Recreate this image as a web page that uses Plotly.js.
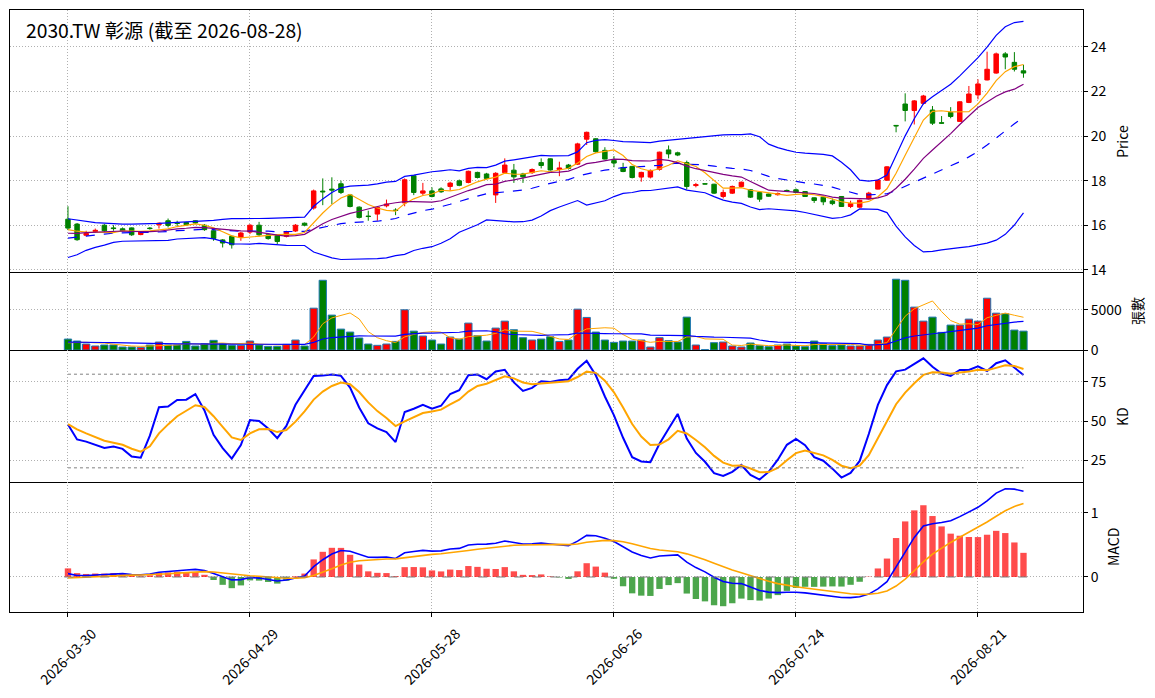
<!DOCTYPE html>
<html><head><meta charset="utf-8">
<script src="https://cdn.plot.ly/plotly-3.0.1.min.js"></script>
<style>html,body{margin:0;padding:0;background:#fff}</style>
</head><body>
<div id="chart" style="width:1155px;height:698px"></div>
<script>
const dates = ["2026-03-30","2026-03-31","2026-04-01","2026-04-02","2026-04-07","2026-04-08","2026-04-09","2026-04-10","2026-04-13","2026-04-14",
"2026-04-15","2026-04-16","2026-04-17","2026-04-20","2026-04-21","2026-04-22","2026-04-23","2026-04-24","2026-04-27","2026-04-28",
"2026-04-29","2026-04-30","2026-05-04","2026-05-05","2026-05-06","2026-05-07","2026-05-08","2026-05-11","2026-05-12","2026-05-13",
"2026-05-14","2026-05-15","2026-05-18","2026-05-19","2026-05-20","2026-05-21","2026-05-22","2026-05-25","2026-05-26","2026-05-27",
"2026-05-28","2026-05-29","2026-06-01","2026-06-02","2026-06-03","2026-06-04","2026-06-05","2026-06-08","2026-06-09","2026-06-10",
"2026-06-11","2026-06-12","2026-06-15","2026-06-16","2026-06-17","2026-06-18","2026-06-22","2026-06-23","2026-06-24","2026-06-25",
"2026-06-26","2026-06-29","2026-06-30","2026-07-01","2026-07-02","2026-07-03","2026-07-06","2026-07-07","2026-07-08","2026-07-09",
"2026-07-10","2026-07-13","2026-07-14","2026-07-15","2026-07-16","2026-07-17","2026-07-20","2026-07-21","2026-07-22","2026-07-23",
"2026-07-24","2026-07-27","2026-07-28","2026-07-29","2026-07-30","2026-07-31","2026-08-03","2026-08-04","2026-08-05","2026-08-06",
"2026-08-07","2026-08-10","2026-08-11","2026-08-12","2026-08-13","2026-08-14","2026-08-17","2026-08-18","2026-08-19","2026-08-20",
"2026-08-21","2026-08-24","2026-08-25","2026-08-26","2026-08-27","2026-08-28"];

const open = [16.27,16.05,15.55,15.72,16.0,15.88,15.84,15.88,15.58,15.87, 16.02,16.2,16.1,16.12,16.2,16.0,15.75,15.34,15.5,15.45,
15.69,16.0,15.57,15.54,15.5,15.74,16.09,16.77,17.53,17.62, 17.86,17.36,16.81,16.41,16.5,16.87,16.68,17.0,18.22,17.44,
17.54,17.63,17.74,17.99,17.92,18.37,18.3,17.36,18.36,18.47, 18.3,18.36,18.81,18.98,18.5,18.7,18.74,19.86,19.88,19.36,
18.91,18.59,18.64,18.16,18.16,18.51,19.38,19.25,18.81,17.78, 17.86,17.84,17.29,17.44,17.74,17.59,17.47,17.4,17.37,17.56,
17.59,17.51,17.23,17.26,17.09,17.29,16.84,16.81,17.18,17.62, 18.02,20.48,21.44,21.15,21.47,21.17,20.6,21.06,20.66,21.51,
21.85,22.52,22.83,23.69,23.31,22.93];
const high = [16.85,16.1,15.75,15.85,16.05,16.0,15.9,15.9,15.73,15.92, 16.12,16.3,16.2,16.15,16.22,16.05,15.78,15.38,15.55,15.7,
16.05,16.15,15.6,15.58,15.75,16.05,16.12,17.6,18.1,18.15, 18.0,17.4,16.85,16.65,16.85,17.15,16.76,18.1,18.25,17.9,
17.7,17.7,17.95,18.05,18.45,18.4,18.35,18.38,19.0,18.75, 18.35,18.55,19.0,19.0,18.85,18.75,19.7,20.2,19.9,19.5,
19.1,18.8,18.66,18.4,18.5,19.3,19.58,19.3,18.9,17.9, 17.87,17.86,17.6,17.78,17.96,17.62,17.5,17.42,17.47,17.6,
17.65,17.53,17.25,17.28,17.2,17.3,17.1,17.15,17.5,18.05, 18.65,20.48,21.92,21.62,21.85,21.35,20.9,21.3,21.56,22.25,
22.55,23.79,23.75,23.77,23.77,23.2];
const low = [15.78,15.3,15.5,15.65,15.65,15.75,15.72,15.52,15.55,15.8, 15.85,15.9,15.95,15.98,16.05,15.75,15.3,15.0,14.95,15.3,
15.6,15.5,15.35,15.15,15.45,15.7,15.95,16.7,16.9,16.95, 17.4,16.8,16.3,16.2,16.2,16.8,16.45,16.85,17.35,17.35,
17.25,17.45,17.55,17.75,17.88,18.1,18.05,17.0,18.3,17.9, 17.9,18.3,18.55,18.45,18.2,18.5,18.7,19.6,19.25,18.95,
18.6,18.38,18.1,17.95,18.1,18.45,19.0,19.1,17.6,17.7, 17.84,17.4,17.2,17.4,17.7,17.22,17.05,17.28,17.33,17.5,
17.45,17.27,17.0,16.9,16.9,16.82,16.77,16.78,17.15,17.6, 18.0,20.17,20.66,20.52,21.42,20.5,20.55,20.8,20.64,21.48,
21.65,22.5,22.8,23.0,22.9,22.62];
const close = [15.87,15.35,15.63,15.77,15.75,15.85,15.75,15.57,15.69,15.85, 16.09,15.99,16.08,16.02,16.1,15.8,15.4,15.2,15.12,15.65,
16.0,15.57,15.4,15.27,15.7,16.0,16.0,17.54,17.5,17.58, 17.47,16.84,16.35,16.39,16.8,16.95,16.66,18.04,17.47,17.54,
17.29,17.5,17.89,17.79,18.42,18.14,18.1,18.33,18.7,18.17, 18.17,18.5,18.68,18.48,18.57,18.55,19.65,20.17,19.3,18.97,
18.79,18.41,18.14,18.37,18.46,19.28,19.2,19.15,17.74,17.82, 17.85,17.44,17.47,17.74,17.93,17.26,17.17,17.3,17.42,17.54,
17.47,17.29,17.11,17.05,16.97,16.84,16.97,17.12,17.44,18.02, 18.62,20.46,21.15,21.58,21.8,20.58,20.58,20.88,21.54,21.89,
22.34,23.0,23.69,23.55,23.0,22.83];
const volume = [1360,1115,745,500,620,620,370,370,330,620, 990,620,620,1070,500,785,1200,785,580,580,
1115,620,455,455,700,1240,500,5200,8670,4340, 2600,2230,1490,745,580,745,1070,5000,2350,1735,
1240,745,1610,1360,3345,1775,1115,2725,3590,2520, 1530,1240,1360,1650,1070,1240,5080,4050,2230,1240,
950,1115,1115,1240,370,1530,1160,990,4090,620, 40,910,990,500,370,870,540,415,620,745,
500,415,1115,785,540,620,500,500,700,1240, 1610,8800,8670,5330,3590,4090,2190,3100,3100,3840,
3590,6440,4580,4500,2480,2350];

// estimated sessions before the first visible date (not drawn; only used to warm up the indicators)
const warmClose = [16.0,16.1,15.9,16.0,16.2,16.1,15.9,16.0,16.1,16.0,15.9,16.0,16.1,15.9,15.8,15.9,16.0,15.8,15.6,15.2,
15.0,14.6,14.5,14.8,15.0,15.0,15.3,15.5,15.5,15.8,16.0,15.4,15.3,15.6,15.5,15.6,15.7,15.8,15.9,15.73];
const warmHigh = [16.15,16.25,16.05,16.15,16.35,16.25,16.05,16.15,16.25,16.15,16.05,16.15,16.25,16.05,15.95,16.05,16.15,15.95,15.75,15.6,
15.3,14.9,14.7,14.95,15.15,15.15,15.45,15.65,15.65,15.95,16.5,15.9,15.45,15.75,15.65,15.75,15.85,16.6,16.05,15.95];
const warmLow = [15.85,15.95,15.75,15.85,16.05,15.95,15.75,15.85,15.95,15.85,15.75,15.85,15.95,15.75,15.65,15.75,15.85,15.65,15.45,15.1,
14.85,14.45,14.35,14.6,14.85,14.85,15.15,15.35,15.35,15.65,15.85,15.3,15.15,15.45,15.0,15.45,15.55,15.65,15.75,15.6];
const warmVolume = [1050,980,1120,900,1010,950,1080,1000,920,1150,990,1030,960,1100,940,1010,800,760,820,760];

const chartTitle = "2030.TW 彰源 (截至 2026-08-28)";
const tickIdx = [0,20,40,60,80,100];
const kdLevels = [80,20];
const panelTitles = ["Price","張數","KD","MACD"];

// ---------- indicators ----------
function sma(a,n){return a.map((v,i)=>{if(i<n-1)return null;let s=0;for(let k=i-n+1;k<=i;k++)s+=a[k];return s/n;});}
function sd(a,n){return a.map((v,i)=>{if(i<n-1)return null;let s=0;for(let k=i-n+1;k<=i;k++)s+=a[k];const m=s/n;let q=0;for(let k=i-n+1;k<=i;k++)q+=(a[k]-m)*(a[k]-m);return Math.sqrt(q/(n-1));});}
function ema(a,span){const al=2/(span+1);const o=[];a.forEach((v,i)=>{o.push(i===0?v:al*v+(1-al)*o[i-1]);});return o;}

const W = warmClose.length;
const C = warmClose.concat(close), H = warmHigh.concat(high), L = warmLow.concat(low);
const cut = a => a.slice(W);
const ma5 = cut(sma(C,5)), ma10 = cut(sma(C,10)), ma20 = cut(sma(C,20)), s20 = cut(sd(C,20));
const bbUp = ma20.map((m,i)=>m+2*s20[i]), bbLo = ma20.map((m,i)=>m-2*s20[i]);

const V = warmVolume.concat(volume);
const vma5 = sma(V,5).slice(warmVolume.length), vma20 = sma(V,20).slice(warmVolume.length);

let Kf=[],Df=[];let kp=50,dp=50;
C.forEach((c,i)=>{const s=Math.max(0,i-8);let hh=-1e9,ll=1e9;for(let k=s;k<=i;k++){hh=Math.max(hh,H[k]);ll=Math.min(ll,L[k]);}
 const rsv=hh>ll?(c-ll)/(hh-ll)*100:50;kp=kp*2/3+rsv/3;dp=dp*2/3+kp/3;Kf.push(kp);Df.push(dp);});
const K = cut(Kf), D = cut(Df);

const e12=ema(C,12), e26=ema(C,26);
const difF = e12.map((v,i)=>v-e26[i]);
const sigF = ema(difF,9);
const dif = cut(difF), sig = cut(sigF);
const hist = dif.map((v,i)=>2*(v-sig[i]));

const n = dates.length;
const upColor='#ff0000', dnColor='#008000';
const volColors = close.map((c,i)=>c>=open[i]?upColor:dnColor);
const histColors = hist.map(h=>h>=0?'rgba(255,0,0,0.7)':'rgba(0,128,0,0.7)');

const traces = [
 {type:'candlestick',x:dates,open:open,high:high,low:low,close:close,xaxis:'x',yaxis:'y',
  increasing:{line:{color:upColor,width:1},fillcolor:upColor},decreasing:{line:{color:dnColor,width:1},fillcolor:dnColor},
  whiskerwidth:0,hoverinfo:'skip'},
 {type:'scatter',mode:'lines',x:dates,y:bbUp,line:{color:'#0000ff',width:1.2},xaxis:'x',yaxis:'y'},
 {type:'scatter',mode:'lines',x:dates,y:bbLo,line:{color:'#0000ff',width:1.2},xaxis:'x',yaxis:'y'},
 {type:'scatter',mode:'lines',x:dates,y:ma20,line:{color:'#0000ff',width:1.2,dash:'dash'},xaxis:'x',yaxis:'y'},
 {type:'scatter',mode:'lines',x:dates,y:ma5,line:{color:'#ffa500',width:1.2},xaxis:'x',yaxis:'y'},
 {type:'scatter',mode:'lines',x:dates,y:ma10,line:{color:'#800080',width:1.2},xaxis:'x',yaxis:'y'},
 {type:'bar',x:dates,y:volume,marker:{color:volColors,line:{color:'#1f77b4',width:1}},width:0.8,xaxis:'x2',yaxis:'y2'},
 {type:'scatter',mode:'lines',x:dates,y:vma5,line:{color:'#ffa500',width:1},xaxis:'x2',yaxis:'y2'},
 {type:'scatter',mode:'lines',x:dates,y:vma20,line:{color:'#0000ff',width:1.2},xaxis:'x2',yaxis:'y2'},
 {type:'scatter',mode:'lines',x:dates,y:K,line:{color:'#0000ff',width:2},xaxis:'x3',yaxis:'y3'},
 {type:'scatter',mode:'lines',x:dates,y:D,line:{color:'#ffa500',width:2},xaxis:'x3',yaxis:'y3'},
 {type:'bar',x:dates,y:hist,marker:{color:histColors},width:0.7,xaxis:'x4',yaxis:'y4'},
 {type:'scatter',mode:'lines',x:dates,y:dif,line:{color:'#0000ff',width:1.6},xaxis:'x4',yaxis:'y4'},
 {type:'scatter',mode:'lines',x:dates,y:sig,line:{color:'#ffa500',width:1.6},xaxis:'x4',yaxis:'y4'}
];

const xr = [-6.37, n-1+6.54];
const tickDates = tickIdx.map(i=>dates[i]);
const grid = {showgrid:true,gridcolor:'#b0b0b0',griddash:'1px,2px',gridwidth:1,zeroline:false};
function xax(anchor,isBottom,isTop){return Object.assign({type:'category',range:xr,tickmode:'array',tickvals:tickDates,ticktext:tickDates,
 showticklabels:false,ticks:isBottom?'outside':'',ticklen:4,tickcolor:'#000',anchor:anchor,rangeslider:{visible:false},
 showline:true,mirror:isTop,linecolor:'#000',linewidth:1,fixedrange:true},grid);}
function yax(anchor,dom,range,dtick){return Object.assign({side:'right',anchor:anchor,domain:dom,range:range,dtick:dtick,tick0:0,
 ticks:'outside',ticklen:4,tickcolor:'#000',showline:true,mirror:true,linecolor:'#000',linewidth:1,fixedrange:true},grid);}

const shapes = kdLevels.map(v=>({type:'line',xref:'x3',yref:'y3',x0:0,x1:n-1,y0:v,y1:v,line:{color:'#808080',width:1,dash:'dot'}}));
shapes.push({type:'line',xref:'x4',yref:'y4',x0:-0.4,x1:n-1+0.4,y0:0,y1:0,line:{color:'#808080',width:1.2,dash:'dash'}});

const annotations = [{xref:'paper',yref:'paper',x:0.0140,y:0.9668,xanchor:'left',yanchor:'middle',showarrow:false,borderpad:0,text:chartTitle,font:{size:19.3,color:'#000'}}];
tickDates.forEach(d=>annotations.push({xref:'x4',yref:'paper',x:d,y:-0.0739,xanchor:'center',yanchor:'middle',showarrow:false,textangle:-45,text:d,font:{size:14}}));
const titlePos = [[1.0363,0.7824],[1.0503,0.5],[1.0363,0.3256],[1.0280,0.108]];
panelTitles.forEach((t,i)=>annotations.push({xref:'paper',yref:'paper',x:titlePos[i][0],y:titlePos[i][1],xanchor:'center',yanchor:'middle',showarrow:false,textangle:-90,text:t,font:{size:14}}));

const layout = {
 width:1155,height:698,margin:{l:10,r:72,t:10,b:86},paper_bgcolor:'#fff',plot_bgcolor:'#fff',showlegend:false,hovermode:false,
 font:{family:'"Noto Sans CJK TC","Noto Sans",sans-serif',size:14,color:'#000'},
 xaxis:xax('y',false,true),xaxis2:xax('y2',false,false),xaxis3:xax('y3',false,false),xaxis4:xax('y4',true,false),
 yaxis:yax('x',[0.5648,1],[13.9,25.66],2),
 yaxis2:yax('x2',[0.4352,0.5648],[0,9700],5000),
 yaxis3:yax('x3',[0.2159,0.4352],[10.9,95.5],25),
 yaxis4:yax('x4',[0,0.2159],[-0.547,1.484],1),
 shapes:shapes,annotations:annotations
};
Plotly.newPlot('chart',traces,layout,{displayModeBar:false,staticPlot:true});
</script>
</body></html>
